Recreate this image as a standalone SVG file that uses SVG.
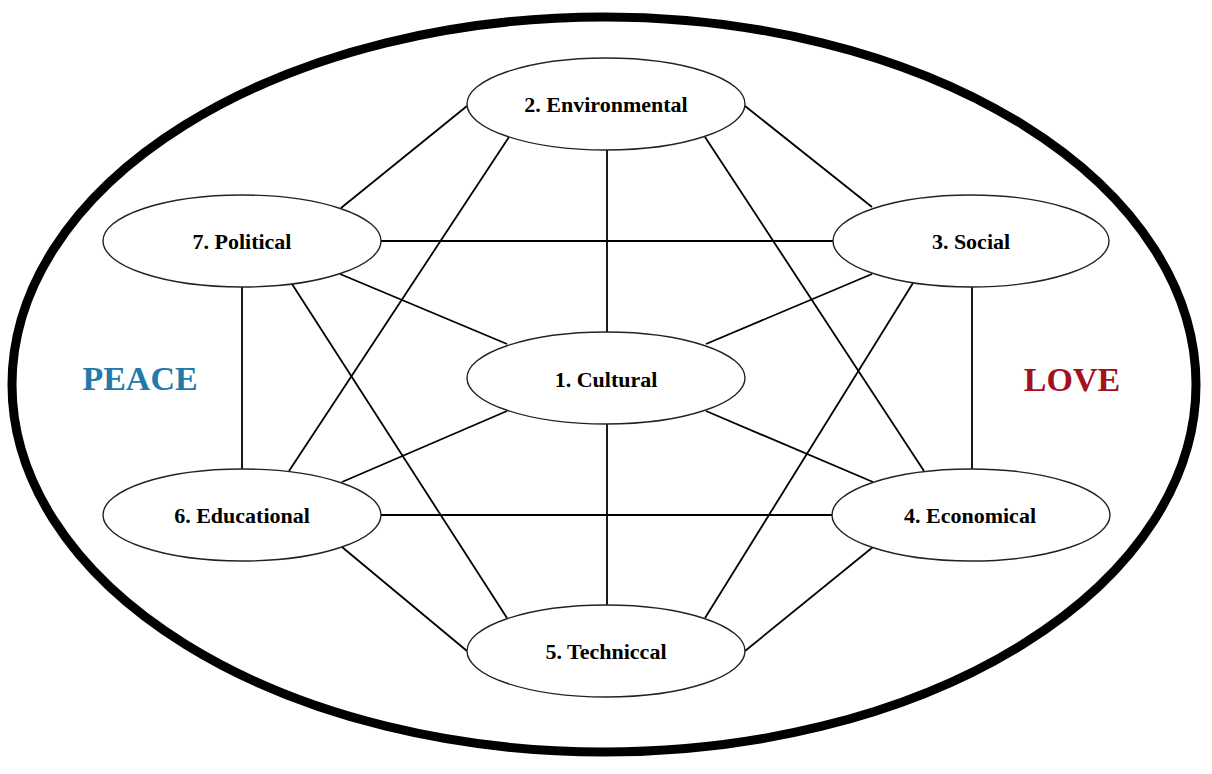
<svg xmlns="http://www.w3.org/2000/svg" width="1212" height="774" viewBox="0 0 1212 774">
<style>
.conn line{stroke:#000;stroke-width:1.8;fill:none}
.node ellipse{fill:#fff;stroke:#222;stroke-width:1.4}
.node text{font-family:"Liberation Serif","Times New Roman",serif;font-weight:bold;font-size:22px;fill:#000;text-anchor:middle}
.big{font-family:"Liberation Serif","Times New Roman",serif;font-weight:bold;font-size:34px;text-anchor:middle}
</style>
<rect width="1212" height="774" fill="#fff"/>
<ellipse id="outer" cx="604" cy="384.5" rx="592" ry="367.5" fill="none" stroke="#000" stroke-width="9"/>
<g id="connectors" class="conn">
<line x1="467" y1="106" x2="341" y2="208"/>
<line x1="745" y1="106" x2="872" y2="207"/>
<line x1="607" y1="150" x2="607" y2="332"/>
<line x1="509" y1="137" x2="289" y2="471"/>
<line x1="705" y1="137" x2="924" y2="471"/>
<line x1="381" y1="241" x2="833" y2="241"/>
<line x1="340" y1="274" x2="507" y2="344"/>
<line x1="242" y1="287" x2="242" y2="469"/>
<line x1="292" y1="284" x2="507" y2="618"/>
<line x1="872" y1="274" x2="706" y2="344"/>
<line x1="972" y1="287" x2="972" y2="469"/>
<line x1="913" y1="283" x2="705" y2="618"/>
<line x1="342" y1="482" x2="507" y2="411"/>
<line x1="381" y1="515" x2="832" y2="515"/>
<line x1="342" y1="547" x2="467" y2="651"/>
<line x1="873" y1="547" x2="745" y2="651"/>
<line x1="607" y1="423" x2="607" y2="605"/>
<line x1="706" y1="411" x2="873" y2="482"/>
</g>
<g id="n2" class="node"><ellipse cx="606" cy="104" rx="139" ry="46"/><text x="606" y="112">2. Environmental</text></g>
<g id="n7" class="node"><ellipse cx="242" cy="241" rx="139" ry="46"/><text x="242" y="249">7. Political</text></g>
<g id="n3" class="node"><ellipse cx="971" cy="241" rx="138" ry="46"/><text x="971" y="249">3. Social</text></g>
<g id="n1" class="node"><ellipse cx="606" cy="378" rx="139" ry="46"/><text x="606" y="387">1. Cultural</text></g>
<g id="n6" class="node"><ellipse cx="242" cy="515" rx="139" ry="46"/><text x="242" y="523">6. Educational</text></g>
<g id="n4" class="node"><ellipse cx="971" cy="515" rx="139" ry="46"/><text x="970" y="523">4. Economical</text></g>
<g id="n5" class="node"><ellipse cx="606" cy="651" rx="139" ry="46"/><text x="606" y="659">5. Techniccal</text></g>
<text id="peace" class="big" x="140" y="390" fill="#2479ab">PEACE</text>
<text id="love" class="big" x="1072" y="391" fill="#a3111a">LOVE</text>
</svg>
